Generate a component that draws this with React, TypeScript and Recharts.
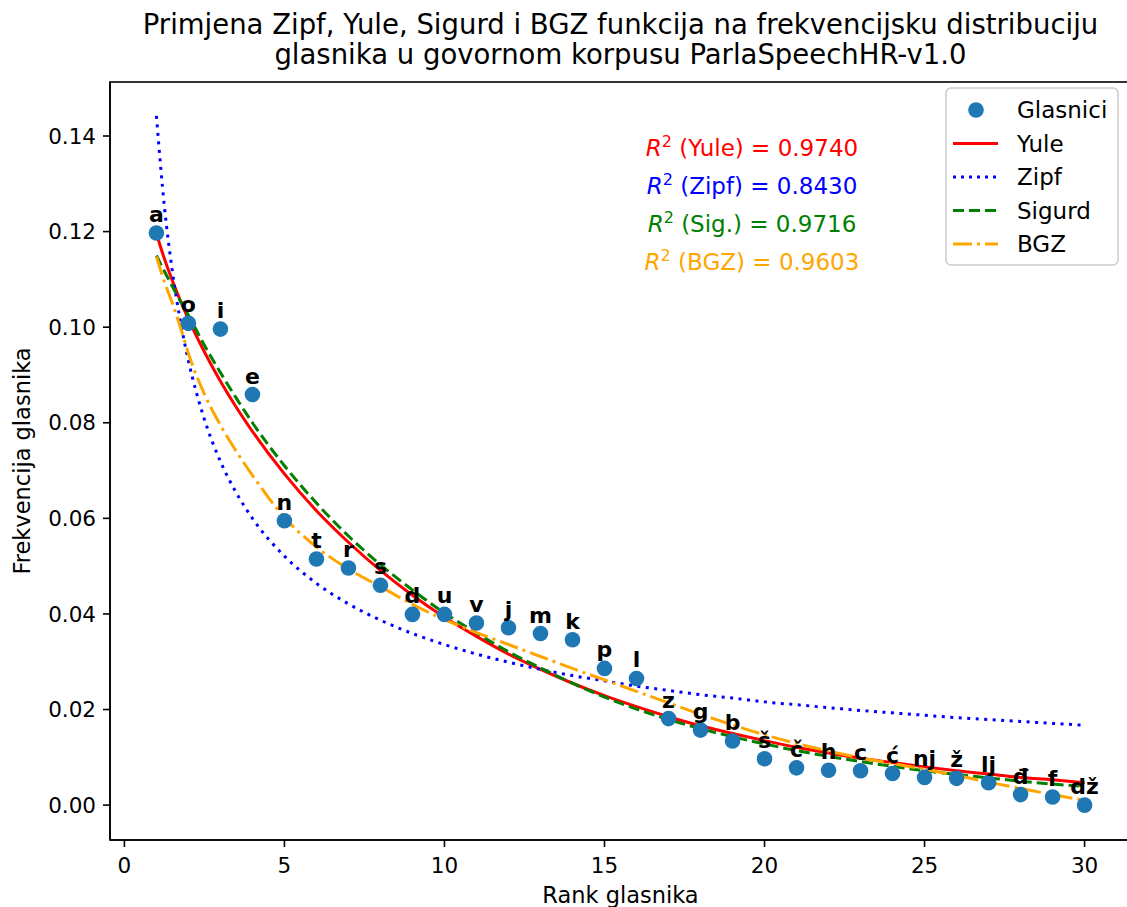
import { ComposedChart, Scatter, Line, XAxis, YAxis } from 'recharts';

// rank order of the phonemes, as plotted
const ranks = [1, 2, 3, 4, 5, 6, 7, 8, 9, 10, 11, 12, 13, 14, 15, 16, 17, 18, 19, 20, 21, 22, 23, 24, 25, 26, 27, 28, 29, 30];
const letters = ['a', 'o', 'i', 'e', 'n', 't', 'r', 's', 'd', 'u', 'v', 'j', 'm', 'k', 'p', 'l', 'z', 'g', 'b', 'š', 'č', 'h', 'c', 'ć', 'nj', 'ž', 'lj', 'đ', 'f', 'dž'];
const freqs = [0.1197, 0.1008, 0.0996, 0.0859, 0.0595, 0.0515, 0.0496, 0.046, 0.0399, 0.0399, 0.0381, 0.0371, 0.0359, 0.0346, 0.0286, 0.0265, 0.0181, 0.0157, 0.0134, 0.0097, 0.0078, 0.0073, 0.0072, 0.0066, 0.0058, 0.0056, 0.0047, 0.0022, 0.0017, 0.0];

// fitted curves
const curveRanks = [1, 1.25, 1.5, 1.75, 2, 2.5, 3, 3.5, 4, 5, 6, 7, 8, 9, 10, 11, 12, 13, 14, 15, 16, 17, 18, 19, 20, 21, 22, 23, 24, 25, 26, 27, 28, 29, 30];
const yuleFit = [0.1196, 0.1143, 0.1097, 0.1055, 0.1017, 0.0948, 0.0887, 0.0832, 0.0782, 0.0693, 0.0616, 0.055, 0.0491, 0.0439, 0.0393, 0.0353, 0.0316, 0.0284, 0.0255, 0.0229, 0.0206, 0.0185, 0.0166, 0.015, 0.0135, 0.0121, 0.0109, 0.0098, 0.0089, 0.008, 0.0072, 0.0065, 0.0058, 0.0053, 0.0047];
const zipfFit = [0.1442, 0.1252, 0.1116, 0.1012, 0.093, 0.0807, 0.0719, 0.0653, 0.06, 0.0521, 0.0464, 0.0421, 0.0387, 0.0359, 0.0336, 0.0316, 0.0299, 0.0284, 0.0271, 0.026, 0.0249, 0.024, 0.0231, 0.0224, 0.0216, 0.021, 0.0204, 0.0198, 0.0193, 0.0188, 0.0183, 0.0179, 0.0175, 0.0171, 0.0167];
const sigurdFit = [0.115, 0.1117, 0.1085, 0.1055, 0.1025, 0.0962, 0.0905, 0.0851, 0.08, 0.071, 0.0632, 0.0563, 0.0503, 0.045, 0.0402, 0.036, 0.0321, 0.0287, 0.0255, 0.0226, 0.0201, 0.0179, 0.016, 0.0143, 0.0128, 0.0114, 0.0102, 0.0091, 0.0081, 0.0072, 0.0064, 0.0057, 0.005, 0.0044, 0.0039];
const bgzFit = [0.1148, 0.1095, 0.105, 0.1, 0.0945, 0.086, 0.0795, 0.074, 0.069, 0.0602, 0.054, 0.0494, 0.0457, 0.042, 0.0388, 0.0361, 0.0336, 0.0311, 0.0286, 0.0262, 0.0238, 0.0214, 0.019, 0.0168, 0.0147, 0.0129, 0.0113, 0.0099, 0.0087, 0.0075, 0.0062, 0.0048, 0.0035, 0.0022, 0.001];

const r2Labels = ['(Yule) = 0.9740', '(Zipf) = 0.8430', '(Sig.) = 0.9716', '(BGZ) = 0.9603'];
const r2Colors = ['#ff0000', '#0000ff', '#008000', '#ffa500'];

const xTicks = [0, 5, 10, 15, 20, 25, 30];
const yTicks = [0, 0.02, 0.04, 0.06, 0.08, 0.1, 0.12, 0.14];

const FONT = '"DejaVu Sans", sans-serif';
const DOT = '#1f77b4';

const points = ranks.map((r, i) => ({ x: r, y: freqs[i], label: letters[i] }));
const curve = (vals: number[]) => curveRanks.map((r, i) => ({ x: r, v: vals[i] }));

const legendItems = [
  { name: 'Glasnici', color: DOT, dash: null as string | null, dot: true },
  { name: 'Yule', color: '#ff0000', dash: null, dot: false },
  { name: 'Zipf', color: '#0000ff', dash: '3 5', dot: false },
  { name: 'Sigurd', color: '#008000', dash: '11 5', dot: false },
  { name: 'BGZ', color: '#ffa500', dash: '19 5 3 5', dot: false },
];

const DotShape = (props: any) => <circle cx={props.cx} cy={props.cy} r={7.8} fill={DOT} />;
const LabelShape = (props: any) => (
  <text x={props.cx} y={props.cy - 11} textAnchor="middle" fontSize={22} fontWeight="bold" fontFamily={FONT} fill="#000">
    {props.payload.label}
  </text>
);

// x tick text, baseline placed below the tick mark
const XTick = (props: any) => (
  <text x={props.x} y={847 + 26} textAnchor="middle" fontSize={21.5} fontFamily={FONT} fill="#000">
    {props.payload.value}
  </text>
);

export default function App() {
  return (
    <div style={{ position: 'fixed', left: 0, top: 0, width: 1127, height: 907, overflow: 'hidden', background: '#fff' }}>
      <ComposedChart width={1140} height={907} margin={{ top: 82, left: 50, right: 9, bottom: 37 }}>
        <XAxis
          type="number"
          dataKey="x"
          domain={[-0.45, 31.45]}
          ticks={xTicks}
          allowDataOverflow
          height={30}
          tickSize={7}
          stroke="#000"
          strokeWidth={1.6}
          tick={XTick}
        />
        <YAxis
          type="number"
          domain={[-0.0073, 0.1513]}
          ticks={yTicks}
          allowDataOverflow
          width={60}
          tickSize={7}
          tickMargin={7}
          stroke="#000"
          strokeWidth={1.6}
          tickFormatter={(v: number) => v.toFixed(2)}
          tick={{ fontSize: 21.5, fontFamily: FONT, fill: '#000' }}
        />
        <Scatter data={points} dataKey="y" shape={DotShape} isAnimationActive={false} />
        <Line data={curve(yuleFit)} dataKey="v" type="monotone" stroke="#ff0000" strokeWidth={3} dot={false} isAnimationActive={false} />
        <Line data={curve(zipfFit)} dataKey="v" type="monotone" stroke="#0000ff" strokeWidth={3} strokeDasharray="3 5.5" dot={false} isAnimationActive={false} />
        <Line data={curve(sigurdFit)} dataKey="v" type="monotone" stroke="#008000" strokeWidth={3} strokeDasharray="11 5" dot={false} isAnimationActive={false} />
        <Line data={curve(bgzFit)} dataKey="v" type="monotone" stroke="#ffa500" strokeWidth={3} strokeDasharray="19 5 3 5" dot={false} isAnimationActive={false} />
        <Scatter data={points} dataKey="y" shape={LabelShape} isAnimationActive={false} />
      </ComposedChart>
      <svg width={1127} height={907} style={{ position: 'absolute', left: 0, top: 0, pointerEvents: 'none' }}>
        <rect x={110} y={82} width={1021} height={758} fill="none" stroke="#000" strokeWidth={1.6} />
        <text x={620.5} y={34} textAnchor="middle" fontSize={27.5} fontFamily={FONT} fill="#000">
          Primjena Zipf, Yule, Sigurd i BGZ funkcija na frekvencijsku distribuciju
        </text>
        <text x={620.5} y={64} textAnchor="middle" fontSize={27.5} fontFamily={FONT} fill="#000">
          glasnika u govornom korpusu ParlaSpeechHR-v1.0
        </text>
        <text x={620.5} y={903} textAnchor="middle" fontSize={22.5} fontFamily={FONT} fill="#000">
          Rank glasnika
        </text>
        <text x={30} y={461} textAnchor="middle" fontSize={22.5} fontFamily={FONT} fill="#000" transform="rotate(-90 30 461)">
          Frekvencija glasnika
        </text>
        {r2Labels.map((t, i) => (
          <text key={t} x={752} y={156 + i * 38} textAnchor="middle" fontSize={23} fontFamily={FONT} fill={r2Colors[i]}>
            <tspan fontStyle="italic">R</tspan>
            <tspan dy={-9} fontSize={16}>2</tspan>
            <tspan dy={9}> {t}</tspan>
          </text>
        ))}
        <g transform="translate(946 88)">
          <rect x={0} y={0} width={172} height={177} rx={5} fill="#fff" fillOpacity={0.8} stroke="#cccccc" strokeWidth={1.5} />
          {legendItems.map((it, i) => {
            const cy = 22 + i * 33.5;
            return (
              <g key={it.name}>
                {it.dot ? (
                  <circle cx={30} cy={cy} r={7.8} fill={it.color} />
                ) : (
                  <line x1={7} x2={52} y1={cy} y2={cy} stroke={it.color} strokeWidth={3} strokeDasharray={it.dash || undefined} />
                )}
                <text x={71} y={cy + 8} fontSize={23} fontFamily={FONT} fill="#000">
                  {it.name}
                </text>
              </g>
            );
          })}
        </g>
      </svg>
    </div>
  );
}
